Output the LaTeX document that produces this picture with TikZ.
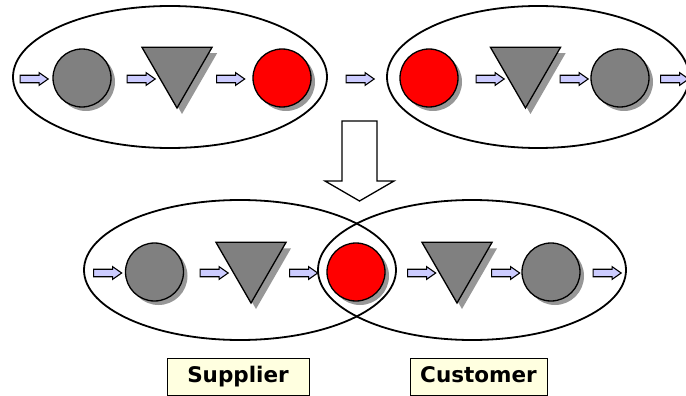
\documentclass[tikz,border=0pt]{standalone}
\usepackage{fontspec}
\setmainfont{DejaVu Sans}
\usetikzlibrary{shapes.geometric,shapes.arrows,shadows}
\definecolor{lav}{RGB}{204,204,255}
\definecolor{shapegray}{RGB}{128,128,128}
\definecolor{lblfill}{RGB}{255,255,224}
\tikzset{
  shd/.style={drop shadow={shadow xshift=4pt,shadow yshift=-4pt,fill=black!45,opacity=0.9}},
  grayc/.style={circle,draw=black,line width=1.3pt,fill=shapegray,minimum size=58pt,inner sep=0pt,shd},
  redc/.style={circle,draw=black,line width=1.3pt,fill=red,minimum size=58pt,inner sep=0pt,shd},
  tri/.style={regular polygon,regular polygon sides=3,shape border rotate=180,draw=black,line width=1.3pt,fill=shapegray,minimum size=81pt,inner sep=0pt,drop shadow={shadow xshift=5pt,shadow yshift=-6pt,fill=black!45,opacity=0.9}},
  blk/.style={single arrow,draw=black,line width=1.1pt,fill=lav,minimum height=28pt,inner sep=3.2pt,single arrow head extend=2.6pt,single arrow tip angle=70},
  grp/.style={draw=black,line width=1.8pt},
  lbl/.style={draw=black,line width=1pt,fill=lblfill,font=\bfseries\fontsize{21.5}{25}\selectfont,inner sep=0pt,text height=16pt,text depth=4pt}
}
\begin{document}
\begin{tikzpicture}[x=1pt,y=-1pt]
\useasboundingbox (0,0) rectangle (686,396);
% group ellipses
\draw[grp] (170,77) ellipse [x radius=157, y radius=71];
\draw[grp] (538,77) ellipse [x radius=151, y radius=71];
\draw[grp] (240,270) ellipse [x radius=156, y radius=70];
\draw[grp] (472,270) ellipse [x radius=154, y radius=70];
% top left group
\node[blk] (a1) at (31.5,79) {};
\node[grayc] (c1) at (82,78) {};
\node[blk] (a2) at (138.5,79) {};
\node[tri] (t1) at (177,67.5) {};
\node[blk] (a3) at (228,79) {};
\node[redc] (r1) at (282,78) {};
\node[blk] (a4) at (357.5,79) {};
% top right group
\node[redc] (r2) at (429,78) {};
\node[blk] (a5) at (487.5,79) {};
\node[tri] (t2) at (525.5,67.5) {};
\node[blk] (a6) at (571.5,79) {};
\node[grayc] (c2) at (620,78) {};
\node[blk] (a7) at (672,79) {};
% big arrow
\draw[line width=1.3pt,fill=white] (342,121) -- (377,121) -- (377,181) -- (394,181) -- (359.5,201) -- (325,181) -- (342,181) -- cycle;
% bottom row
\node[blk] (b1) at (105,273) {};
\node[grayc] (c3) at (154.5,272) {};
\node[blk] (b2) at (211.5,273) {};
\node[tri] (t3) at (251,262.5) {};
\node[blk] (b3) at (301,273) {};
\node[redc] (r3) at (356,272) {};
\node[blk] (b4) at (419,273) {};
\node[tri] (t4) at (457,262.5) {};
\node[blk] (b5) at (503,273) {};
\node[grayc] (c4) at (551,272) {};
\node[blk] (b6) at (604.5,273) {};
% labels
\node[lbl,minimum width=142pt,minimum height=37pt] (sup) at (238,376.5) {Supplier};
\node[lbl,minimum width=137pt,minimum height=37pt] (cus) at (478.5,376.5) {Customer};
\end{tikzpicture}
\end{document}
